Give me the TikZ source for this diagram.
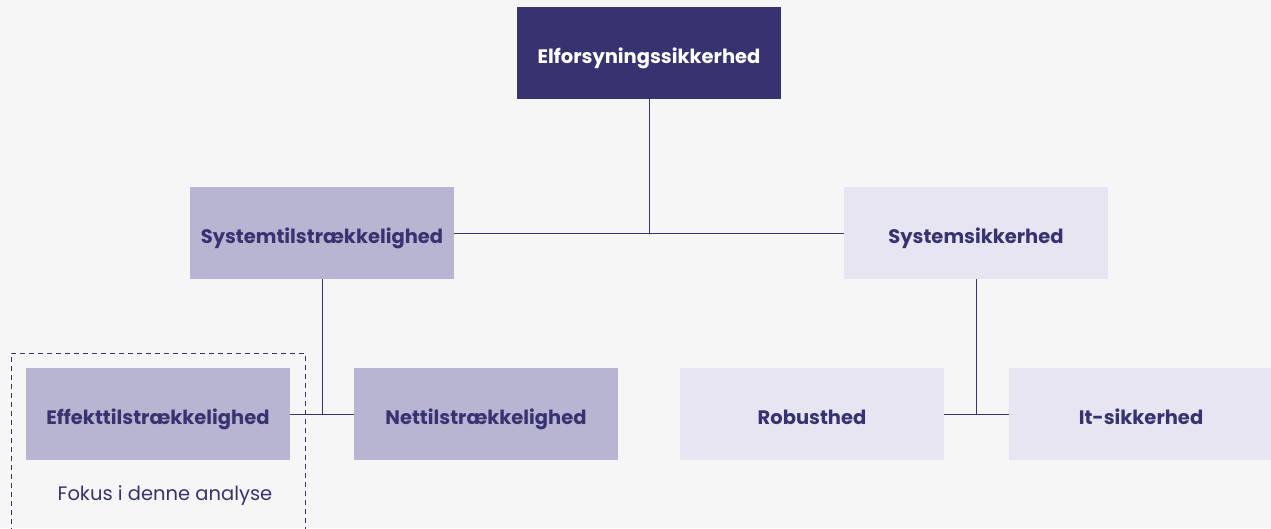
\documentclass[tikz,border=0pt]{standalone}
\usepackage{fontspec}
\setmainfont{Poppins}
\usepackage{xcolor}
\usetikzlibrary{positioning}

\definecolor{navy}{HTML}{363370}
\definecolor{midlilac}{HTML}{B8B5D3}
\definecolor{palelilac}{HTML}{E7E5F1}
\definecolor{bgrey}{HTML}{F6F6F6}

\begin{document}
\begin{tikzpicture}[x=1pt, y=-1pt,
    box/.style={rectangle, minimum width=264pt, minimum height=92pt, inner sep=0pt,
        text height=20pt, text depth=0pt,
        font=\fontsize{19.5}{22}\selectfont\bfseries},
    topbox/.style={box, fill=navy, text=white},
    midbox/.style={box, fill=midlilac, text=navy},
    palebox/.style={box, fill=palelilac, text=navy},
    link/.style={draw=navy, line width=0.9pt}]
    \fill[bgrey] (0,0) rectangle (1271,528);
    \clip (0,0) rectangle (1271,528);

    \node[topbox] (elfor) at (649,53) {Elforsyningssikkerhed};
    \node[midbox] (systil) at (322,233) {Systemtilstrækkelighed};
    \node[palebox] (syssik) at (976,233) {Systemsikkerhed};
    \node[midbox] (effekt) at (158,414) {Effekttilstrækkelighed};
    \node[midbox] (net) at (486,414) {Nettilstrækkelighed};
    \node[palebox] (robust) at (812,414) {Robusthed};
    \node[palebox] (itsik) at (1141,414) {It-sikkerhed};

    % focus frame
    \node[text=navy, font=\fontsize{19.5}{22}\selectfont] (fokus) at (165,496) {Fokus i denne analyse};
    \draw[navy, line width=0.9pt, dash pattern=on 5pt off 4pt] (11,560) -- (11,353) -- (305,353) -- (305,560);

    \draw[link] (elfor.south) -- (649,233) coordinate (hub);
    \draw[link] (systil.east) -- (syssik.west);
    \draw[link] (systil.south) -- (322,414) coordinate (lefthub);
    \draw[link] (effekt.east) -- (net.west);
    \draw[link] (syssik.south) -- (976,414) coordinate (righthub);
    \draw[link] (robust.east) -- (itsik.west);
\end{tikzpicture}
\end{document}
